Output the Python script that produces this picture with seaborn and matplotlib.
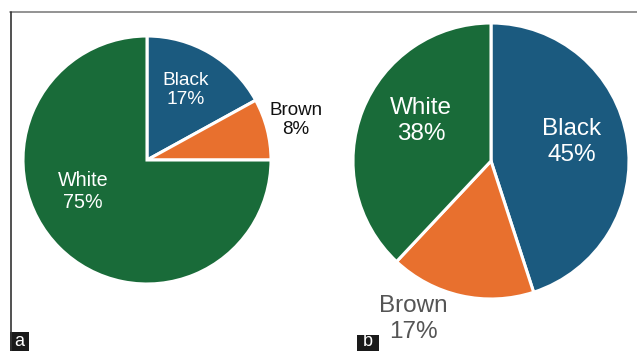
import matplotlib
matplotlib.use("Agg")
import matplotlib.pyplot as plt
import seaborn as sns
from matplotlib.lines import Line2D
from matplotlib.patches import Rectangle

sns.set_theme(style="white")
plt.rcParams['font.family'] = ['Liberation Sans', 'DejaVu Sans']

# data
categories_a = ["Black", "Brown", "White"]
values_a = [17, 8, 75]
categories_b = ["Black", "Brown", "White"]
values_b = [45, 17, 38]
panel_labels = ["a", "b"]

colors = {"Black": "#1b5a7f", "Brown": "#e8702e", "White": "#196b39"}

W, H = 637, 351
fig = plt.figure(figsize=(W / 100, H / 100), dpi=100)
fig.patch.set_facecolor("white")


def pie_axes(cx, cy, r):
    ax = fig.add_axes([(cx - r) / W, 1 - (cy + r) / H, 2 * r / W, 2 * r / H])
    return ax


# panel a
ax_a = pie_axes(147, 160, 124)
ax_a.pie(values_a, colors=[colors[c] for c in categories_a], startangle=90,
         counterclock=False, radius=1, center=(0, 0), frame=False,
         wedgeprops=dict(edgecolor="white", linewidth=2.2))
ax_a.set_xlim(-1, 1); ax_a.set_ylim(-1, 1); ax_a.axis("off")
lab_a = {"Black": ((186 - 147) / 124, (160 - 90) / 124, "white", 13.8),
         "Brown": ((296 - 147) / 124, (160 - 120) / 124, "#111111", 13.5),
         "White": ((83 - 147) / 124, (160 - 191) / 124, "white", 14.2)}
for c, v in zip(categories_a, values_a):
    x, y, col, fs = lab_a[c]
    ax_a.text(x, y, f"{c}\n{v}%", ha="center", va="center", color=col,
              fontsize=fs, linespacing=1.2)

# panel b
ax_b = pie_axes(491, 161, 138)
ax_b.pie(values_b, colors=[colors[c] for c in categories_b], startangle=90,
         counterclock=False, radius=1, center=(0, 0), frame=False,
         wedgeprops=dict(edgecolor="white", linewidth=2.2))
ax_b.set_xlim(-1, 1); ax_b.set_ylim(-1, 1); ax_b.axis("off")
lab_b = {"Black": ((572 - 491) / 138, (161 - 142) / 138, "white", 17.5),
         "Brown": ((413 - 491) / 138, (161 - 319) / 138, "#555555", 17.5),
         "White": ((421 - 491) / 138, (161 - 121) / 138, "white", 17.5)}
for c, v in zip(categories_b, values_b):
    x, y, col, fs = lab_b[c]
    ax_b.text(x, y, f"{c}\n{v}%", ha="center", va="center", color=col,
              fontsize=fs, linespacing=1.18)

# frame lines
fig.add_artist(Line2D([10 / W, 1], [1 - 12 / H, 1 - 12 / H], color="#808080",
                      linewidth=1.2, transform=fig.transFigure))
fig.add_artist(Line2D([10.7 / W, 10.7 / W], [0, 1 - 12 / H], color="#333333",
                      linewidth=1.2, transform=fig.transFigure))

# panel letter boxes
for lbl, (x0, y0, x1, y1) in zip(panel_labels, [(10, 332, 29, 351), (357, 335, 379, 351)]):
    fig.add_artist(Rectangle((x0 / W, 1 - y1 / H), (x1 - x0) / W, (y1 - y0) / H,
                             facecolor="#1a1a1a", edgecolor="none",
                             transform=fig.transFigure))
    fig.text((x0 + x1) / 2 / W, 1 - 350.5 / H, lbl, color="white",
             ha="center", va="bottom", fontsize=13)

fig.savefig("out.png", dpi=100, facecolor="white")
